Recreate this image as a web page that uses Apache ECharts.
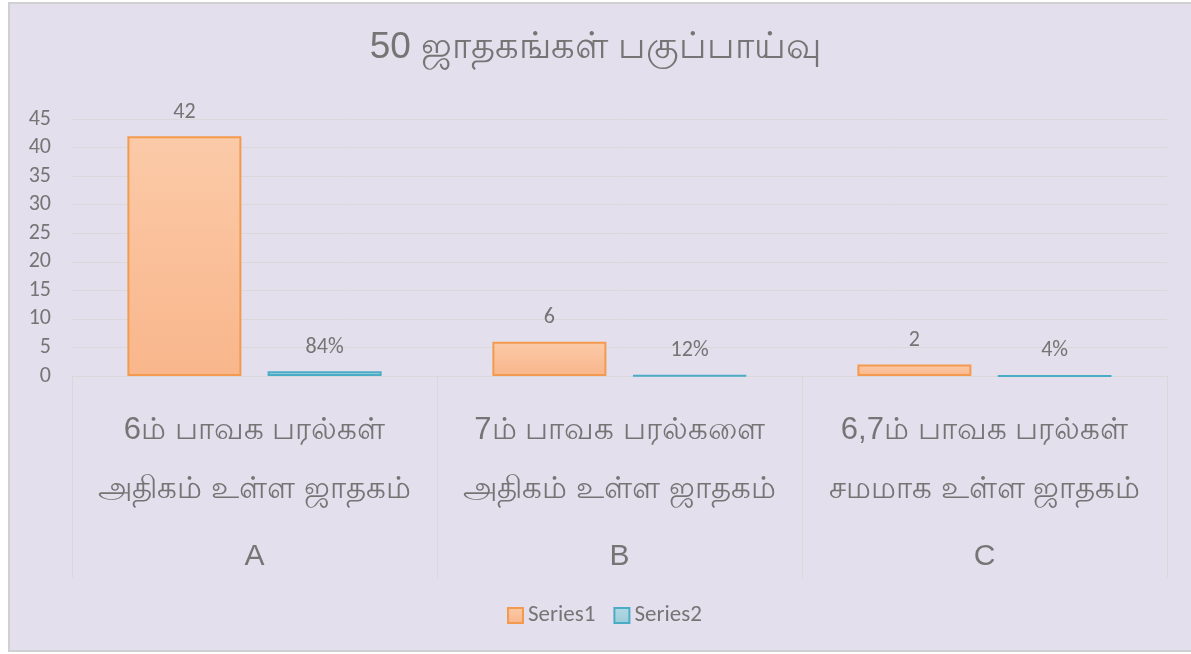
<!DOCTYPE html>
<html lang="ta">
<head>
    <meta charset="utf-8"/>
    <script src="https://cdn.jsdelivr.net/npm/echarts@6/dist/echarts.min.js"></script>
    <style>
        html, body {
            margin: 0;
            padding: 0;
            background: #ffffff;
        }

        .frame {
            position: absolute;
            left: 8px;
            top: 2px;
            width: 1183px;
            height: 650px;
            box-sizing: border-box;
            border-left: 2px solid #d0d0d0;
            border-top: 2px solid #d0d0d0;
            border-bottom: 2px solid #d0d0d0;
            background: #e4dfec;
        }

        #main {
            position: absolute;
            left: 0;
            top: 0;
            width: 1191px;
            height: 654px;
        }
    </style>
</head>
<body>
<div class="frame"></div>
<div id="main"></div>
<script>
    // 图表数据
    var titleText = '50 ஜாதகங்கள் பகுப்பாய்வு';
    var categories = [
        '6ம் பாவக பரல்கள்\nஅதிகம் உள்ள ஜாதகம்',
        '7ம் பாவக பரல்களை\nஅதிகம் உள்ள ஜாதகம்',
        '6,7ம் பாவக பரல்கள்\nசமமாக உள்ள ஜாதகம்'
    ];
    var groups = ['A', 'B', 'C'];
    var series1 = [42, 6, 2];
    var series2 = [0.84, 0.12, 0.04];
    var yTicks = [0, 45, 5];

    var textColor = '#757575';
    var lineColor = '#d9d9d9';
    var font = 'Carlito, Calibri, "Liberation Sans", sans-serif';
    var fontArial = '"Liberation Sans", Arial, sans-serif';

    var myChart = echarts.init(document.getElementById('main'));
    var option = {
        backgroundColor: 'transparent',
        textStyle: {fontFamily: font},
        title: {
            text: titleText,
            left: 'center',
            top: 24,
            textStyle: {fontSize: 37, fontWeight: 'normal', color: textColor, fontFamily: fontArial}
        },
        legend: {
            bottom: 22,
            left: 502,
            icon: 'rect',
            itemWidth: 15,
            itemHeight: 15,
            itemGap: 18,
            textStyle: {fontSize: 23, color: textColor, fontFamily: font},
            data: ['Series1', 'Series2']
        },
        grid: {
            left: 72,
            right: 24,
            top: 119,
            bottom: 278,
            containLabel: false
        },
        xAxis: [
            {
                type: 'category',
                data: categories,
                axisLine: {lineStyle: {color: lineColor, width: 1}},
                axisTick: {show: true, length: 202, lineStyle: {color: lineColor}},
                axisLabel: {
                    margin: 25,
                    fontSize: 31,
                    lineHeight: 59,
                    color: textColor,
                    fontFamily: fontArial,
                    interval: 0
                }
            },
            {
                type: 'category',
                data: groups,
                position: 'bottom',
                offset: 0,
                axisLine: {show: false},
                axisTick: {show: false},
                axisLabel: {
                    margin: 166,
                    fontSize: 30,
                    lineHeight: 30,
                    color: textColor,
                    fontFamily: fontArial,
                    interval: 0
                }
            }
        ],
        yAxis: {
            type: 'value',
            min: yTicks[0],
            max: yTicks[1],
            interval: yTicks[2],
            axisLine: {show: false},
            axisTick: {show: false},
            splitLine: {lineStyle: {color: lineColor, width: 1}},
            axisLabel: {fontSize: 22, color: textColor, margin: 21}
        },
        series: [
            {
                name: 'Series1',
                type: 'bar',
                data: series1,
                barWidth: 114,
                barGap: '23%',
                itemStyle: {
                    color: new echarts.graphic.LinearGradient(0, 0, 0, 1, [
                        {offset: 0, color: '#fbcaa8'},
                        {offset: 1, color: '#f9b68b'}
                    ]),
                    borderColor: '#f39a4e',
                    borderWidth: 2
                },
                label: {
                    show: true,
                    position: 'top',
                    distance: 13,
                    fontSize: 22,
                    color: textColor
                }
            },
            {
                name: 'Series2',
                type: 'bar',
                data: series2,
                barWidth: 114,
                itemStyle: {
                    color: new echarts.graphic.LinearGradient(0, 0, 0, 1, [
                        {offset: 0, color: '#b3d9e4'},
                        {offset: 1, color: '#9ccbd9'}
                    ]),
                    borderColor: '#4bacc6',
                    borderWidth: 2
                },
                label: {
                    show: true,
                    position: 'top',
                    distance: 13,
                    fontSize: 22,
                    color: textColor,
                    formatter: function (p) {
                        return Math.round(p.value * 100) + '%';
                    }
                }
            }
        ]
    };
    myChart.setOption(option);
</script>
</body>
</html>
